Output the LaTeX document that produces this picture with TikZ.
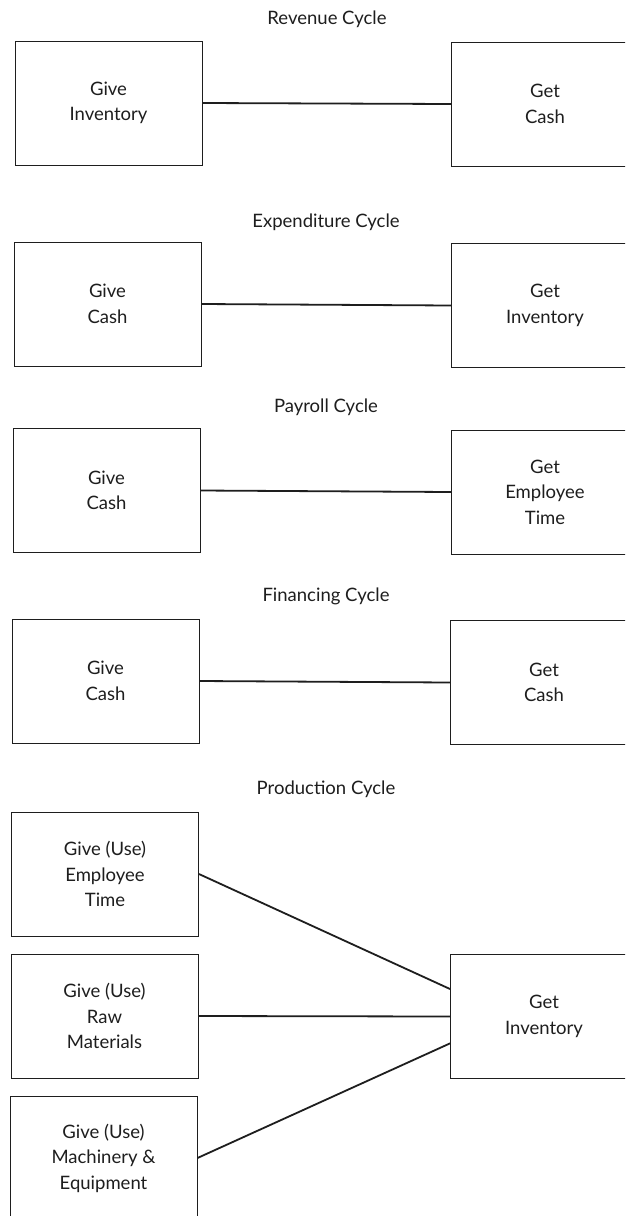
\documentclass[tikz,border=0pt]{standalone}
\usepackage{fontspec}
\setmainfont{Lato}
\usetikzlibrary{calc}
\definecolor{ink}{HTML}{1E1E1E}
\begin{document}
\begin{tikzpicture}[x=1pt,y=-1pt,
  box/.style={draw=ink,line width=0.9pt,minimum width=187pt,minimum height=124pt,inner sep=0pt,align=center,font=\fontsize{18.5}{25.5}\selectfont,text=ink},
  title/.style={font=\fontsize{18.5}{25.5}\selectfont,text=ink,inner sep=0pt},
  link/.style={draw=ink,line width=1.8pt}]
\useasboundingbox (0,0) rectangle (625,1216);
\fill[white] (0,0) rectangle (625,1216);
\clip (0,0) rectangle (625,1216);
% Revenue
\node[title] (t1) at (327,19) {Revenue Cycle};
\node[box] (r1l) at (108.5,103) {Give\\Inventory};
\node[box] (r1r) at (545,104) {Get\\Cash};
\draw[link] (r1l.east) -- (r1r.west);
% Expenditure
\node[title] (t2) at (326,222) {Expenditure Cycle};
\node[box] (r2l) at (107.5,304) {Give\\Cash};
\node[box] (r2r) at (545,305.5) {Get\\Inventory};
\draw[link] (r2l.east) -- (r2r.west);
% Payroll
\node[title] (t3) at (326,407) {Payroll Cycle};
\node[box] (r3l) at (106.5,490.5) {Give\\Cash};
\node[box] (r3r) at (545,492) {Get\\Employee\\Time};
\draw[link] (r3l.east) -- (r3r.west);
% Financing
\node[title] (t4) at (326,596) {Financing Cycle};
\node[box] (r4l) at (105.5,681) {Give\\Cash};
\node[box] (r4r) at (544,682.5) {Get\\Cash};
\draw[link] (r4l.east) -- (r4r.west);
% Production
\node[title] (t5) at (326,789) {Production Cycle};
\node[box] (p1) at (105,874) {Give (Use)\\Employee\\Time};
\node[box] (p2) at (104.5,1016) {Give (Use)\\Raw\\Materials};
\node[box] (p3) at (103.5,1158) {Give (Use)\\Machinery \&\\Equipment};
\node[box] (pr) at (544,1016.5) {Get\\Inventory};
\coordinate (pa) at ($(pr.north west)!0.28!(pr.south west)$);
\coordinate (pc) at ($(pr.north west)!0.715!(pr.south west)$);
\draw[link] (p1.east) -- (pa);
\draw[link] (p2.east) -- (pr.west);
\draw[link] (p3.east) -- (pc);
\end{tikzpicture}
\end{document}
